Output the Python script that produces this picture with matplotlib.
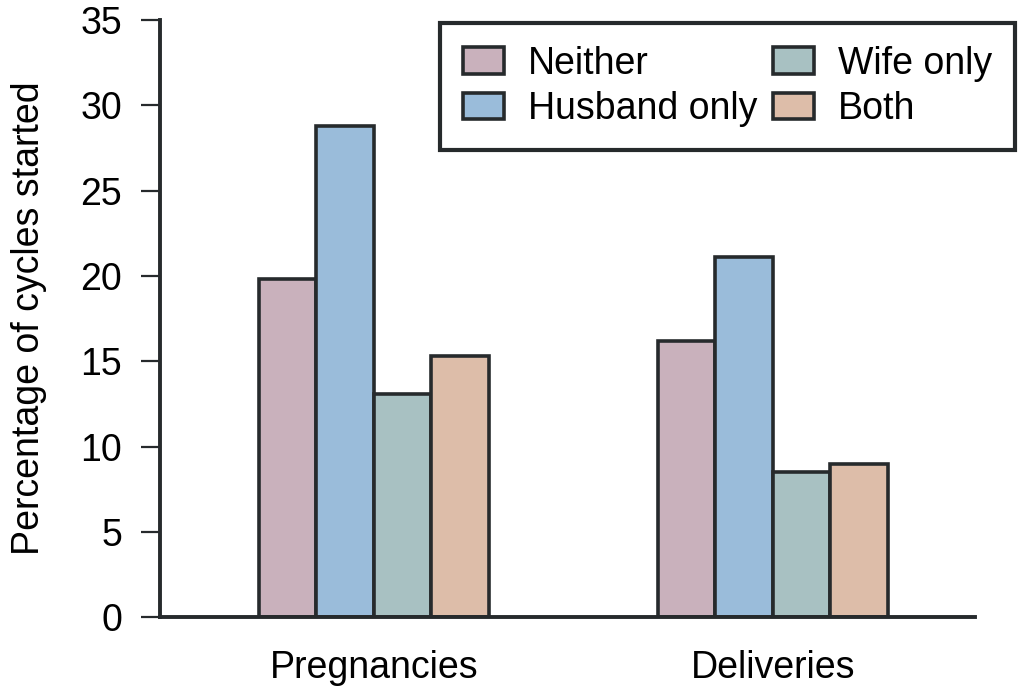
import numpy as np
import matplotlib.pyplot as plt

plt.rcParams['font.family'] = ['Liberation Sans', 'DejaVu Sans']

# Datos
groups = ["Pregnancies", "Deliveries"]
series = ["Neither", "Husband only", "Wife only", "Both"]
neither = [19.8, 16.2]
husband_only = [28.8, 21.1]
wife_only = [13.1, 8.5]
both = [15.3, 9.0]
colors = ["#C9B1BC", "#9ABCDA", "#A8C1C2", "#DDBDA9"]
yticks = [0, 5, 10, 15, 20, 25, 30, 35]

values = [neither, husband_only, wife_only, both]
edge = "#262a2c"

fig = plt.figure(figsize=(10.24, 6.95), dpi=100)
ax = fig.add_axes([0.156, 0.112, 0.796, 0.859])

x = np.arange(len(groups))
w = 0.144
for i, (name, vals) in enumerate(zip(series, values)):
    ax.bar(x + (i - 1.5) * w, vals, w, color=colors[i], edgecolor=edge,
           linewidth=2.6, label=name, zorder=2)

ax.set_xlim(-0.536, 1.506)
ax.set_ylim(0, 35)
ax.set_yticks(yticks)
ax.set_xticks(x)
ax.set_xticklabels(groups)
ax.tick_params(axis='y', length=14, width=1.6, color=edge, labelsize=27, pad=13)
ax.tick_params(axis='x', length=0, labelsize=27, pad=24)
for s in ['top', 'right']:
    ax.spines[s].set_visible(False)
for s in ['left', 'bottom']:
    ax.spines[s].set_linewidth(2.8)
    ax.spines[s].set_color(edge)
ax.set_ylabel("Percentage of cycles started", fontsize=27, labelpad=24)

leg = ax.legend(ncol=2, loc='upper right', bbox_to_anchor=(1.049, 0.995),
                fontsize=27, frameon=True, fancybox=False, edgecolor=edge,
                framealpha=1.0,
                handlelength=1.1, handleheight=0.7, handletextpad=0.65,
                columnspacing=0.4, labelspacing=0.25, borderpad=0.6,
                borderaxespad=0.0)
leg.get_frame().set_linewidth(3.0)

fig.savefig("out.png", dpi=100)
